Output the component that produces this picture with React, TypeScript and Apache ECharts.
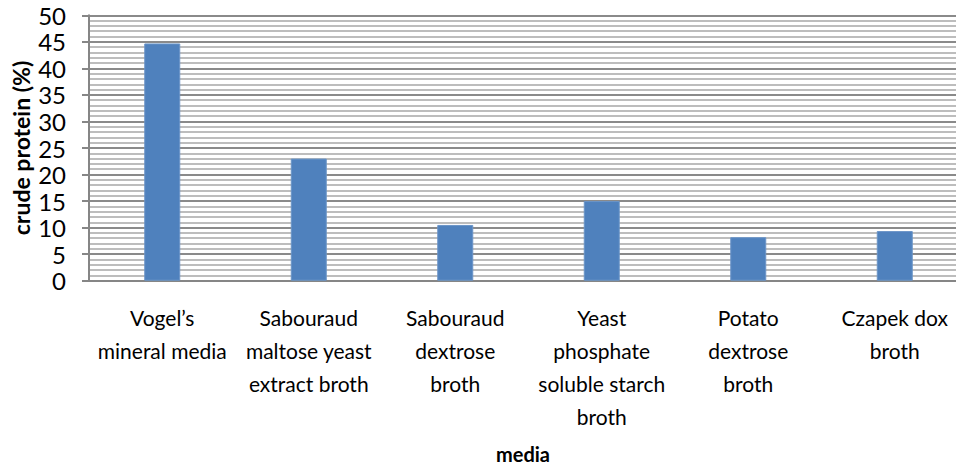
import React, { useEffect, useRef } from "react";
import * as echarts from "echarts";

const categories = [
  "Vogel’s\nmineral media",
  "Sabouraud\nmaltose yeast\nextract broth",
  "Sabouraud\ndextrose\nbroth",
  "Yeast\nphosphate\nsoluble starch\nbroth",
  "Potato\ndextrose\nbroth",
  "Czapek dox\nbroth",
];
const crudeProtein = [44.7, 23.0, 10.5, 15.0, 8.2, 9.35];
const yMin = 0;
const yMax = 50;
const yStep = 5;

const FONT = "Lato, 'Noto Sans', sans-serif";

export default function App() {
  const ref = useRef<HTMLDivElement>(null);
  useEffect(() => {
    if (!ref.current) return;
    const chart = echarts.init(ref.current, undefined, { renderer: "svg" });
    chart.setOption({
      animation: false,
      backgroundColor: "#ffffff",
      grid: {
        left: 89,
        top: 15.3,
        width: 879,
        height: 265.4,
        containLabel: false,
        outerBoundsMode: "none",
      },
      xAxis: {
        type: "category",
        data: categories,
        axisLine: { show: true, lineStyle: { color: "#868686", width: 2 } },
        axisTick: { show: false },
        axisLabel: {
          interval: 0,
          margin: 20,
          fontFamily: FONT,
          fontSize: 21,
          lineHeight: 33,
          color: "#000",
          align: "center",
        },
        splitLine: { show: false },
      },
      yAxis: {
        type: "value",
        min: yMin,
        max: yMax,
        interval: yStep,
        name: "crude protein (%)",
        nameLocation: "middle",
        nameGap: 57,
        nameMoveOverlap: false,
        nameTextStyle: { fontFamily: FONT, fontSize: 23, fontWeight: "bold", color: "#000" },
        axisLine: { show: true, lineStyle: { color: "#868686", width: 2 } },
        axisTick: { show: true, inside: false, length: 7, lineStyle: { color: "#868686", width: 2 } },
        axisLabel: { margin: 23, fontFamily: FONT, fontSize: 24, color: "#000" },
        splitLine: { show: true, lineStyle: { color: "#8a8a8a", width: 2 } },
        minorTick: { show: false, splitNumber: 5 },
        minorSplitLine: { show: true, lineStyle: { color: "#bdbdbd", width: 2 } },
      },
      graphic: [
        {
          type: "text",
          left: 496,
          top: 444,
          style: { text: "media", font: `bold 20px ${FONT}`, fill: "#000" },
        },
      ],
      series: [
        {
          type: "bar",
          data: crudeProtein,
          barWidth: 36,
          itemStyle: { color: "#4f81bd", borderColor: "#6b95c8", borderWidth: 1 },
        },
      ],
    });
    return () => chart.dispose();
  }, []);
  return (
    <div
      ref={ref}
      style={{ position: "fixed", left: 0, top: 0, width: 956, height: 469, background: "#fff" }}
    />
  );
}
